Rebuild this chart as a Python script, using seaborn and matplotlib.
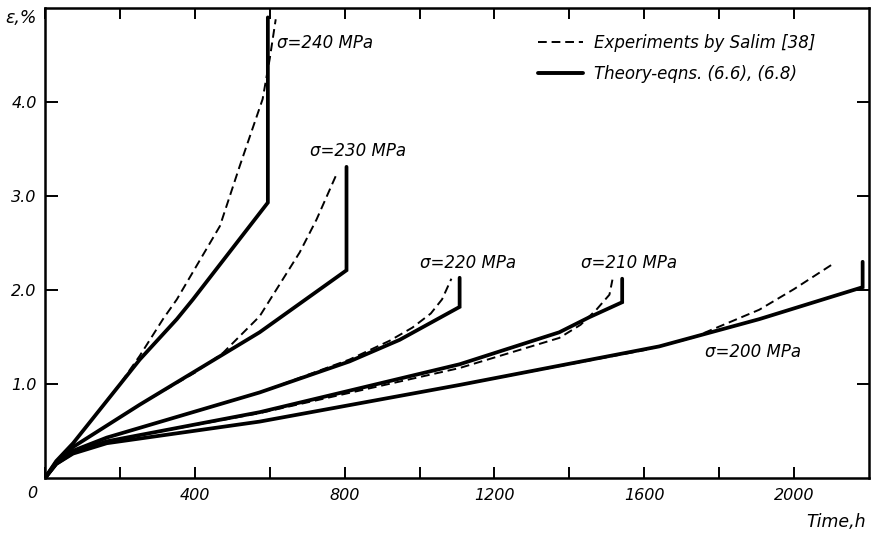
import matplotlib
matplotlib.use("Agg")
import matplotlib.pyplot as plt
from matplotlib.lines import Line2D
import seaborn as sns

# ---- data (time in h, strain in %) ----
stress_labels = ["σ=240 MPa", "σ=230 MPa", "σ=220 MPa", "σ=210 MPa", "σ=200 MPa"]

theory_t_240 = [0, 30, 75, 253, 352, 395, 595, 595]
theory_e_240 = [0, 0.18, 0.37, 1.26, 1.69, 1.90, 2.93, 4.90]
theory_t_230 = [0, 30, 75, 253, 573, 805, 805]
theory_e_230 = [0, 0.17, 0.33, 0.78, 1.55, 2.21, 3.31]
theory_t_220 = [0, 30, 75, 165, 573, 813, 947, 1107, 1107]
theory_e_220 = [0, 0.16, 0.29, 0.43, 0.91, 1.24, 1.47, 1.82, 2.13]
theory_t_210 = [0, 30, 75, 165, 573, 1107, 1373, 1453, 1541, 1541]
theory_e_210 = [0, 0.15, 0.27, 0.39, 0.70, 1.21, 1.55, 1.71, 1.87, 2.12]
theory_t_200 = [0, 30, 75, 165, 573, 1107, 1640, 1907, 2183, 2183]
theory_e_200 = [0, 0.15, 0.26, 0.37, 0.60, 0.99, 1.40, 1.69, 2.03, 2.30]

exp_t_240 = [0, 30, 75, 200, 253, 315, 352, 467, 520, 581, 600, 616]
exp_e_240 = [0, 0.18, 0.37, 1.00, 1.30, 1.69, 1.90, 2.68, 3.32, 4.03, 4.46, 4.88]
exp_t_230 = [0, 30, 75, 253, 400, 475, 573, 680, 725, 776]
exp_e_230 = [0, 0.17, 0.33, 0.78, 1.12, 1.33, 1.72, 2.40, 2.75, 3.21]
exp_t_220 = [0, 30, 75, 165, 573, 813, 920, 981, 1030, 1060, 1085]
exp_e_220 = [0, 0.16, 0.29, 0.43, 0.91, 1.26, 1.46, 1.60, 1.75, 1.90, 2.12]
exp_t_210 = [0, 30, 75, 165, 573, 1107, 1373, 1430, 1472, 1507, 1515]
exp_e_210 = [0, 0.15, 0.27, 0.39, 0.69, 1.17, 1.49, 1.63, 1.79, 1.95, 2.11]
exp_t_200 = [0, 30, 75, 165, 573, 1107, 1600, 1728, 1907, 2000, 2101]
exp_e_200 = [0, 0.15, 0.26, 0.37, 0.60, 0.99, 1.36, 1.49, 1.79, 2.01, 2.27]

label_t = [619, 707, 1000, 1432, 1763]
label_e = [4.63, 3.48, 2.29, 2.29, 1.34]

x_major = [0, 400, 800, 1200, 1600, 2000]
x_minor = [200, 600, 1000, 1400, 1800]
y_major = [1.0, 2.0, 3.0, 4.0]
y_ticklabels = ["1.0", "2.0", "3.0", "4.0"]

legend_labels = ["Experiments by Salim [38]", "Theory-eqns. (6.6), (6.8)"]

theory = [(theory_t_240, theory_e_240), (theory_t_230, theory_e_230),
          (theory_t_220, theory_e_220), (theory_t_210, theory_e_210),
          (theory_t_200, theory_e_200)]
experiments = [(exp_t_240, exp_e_240), (exp_t_230, exp_e_230),
               (exp_t_220, exp_e_220), (exp_t_210, exp_e_210),
               (exp_t_200, exp_e_200)]

# ---- style ----
sns.set_style("ticks")
plt.rcParams["font.family"] = ["DejaVu Sans"]
plt.rcParams["font.style"] = "italic"
plt.rcParams["text.color"] = "black"
plt.rcParams["axes.labelcolor"] = "black"
plt.rcParams["xtick.color"] = "black"
plt.rcParams["ytick.color"] = "black"

fig = plt.figure(figsize=(8.72, 5.37), dpi=100)
ax = fig.add_axes([45 / 872, 1 - 478 / 537, 824 / 872, 470 / 537])

DASH = (4.5, 2.5)
for t, e in experiments:
    sns.lineplot(x=t, y=e, ax=ax, estimator=None, sort=False, color="black",
                 linewidth=1.4)
    ax.lines[-1].set_dashes(DASH)
for t, e in theory:
    sns.lineplot(x=t, y=e, ax=ax, estimator=None, sort=False, color="black",
                 linewidth=2.7, solid_joinstyle="miter")

for lab, t, e in zip(stress_labels, label_t, label_e):
    ax.text(t, e, lab, fontsize=12, va="center", ha="left", style="italic",
            color="black")

ax.set_xlim(0, 2200)
ax.set_ylim(0, 5.0)
ax.set_xticks(x_major)
ax.set_xticks(x_minor, minor=True)
ax.set_xticklabels([""] + [str(v) for v in x_major[1:]], fontsize=11.5, style="italic")
ax.set_yticks(y_major)
ax.set_yticklabels(y_ticklabels, fontsize=11.5, style="italic")
ax.annotate("0", xy=(0, 0), xycoords="data", xytext=(-9, -11),
            textcoords="offset points", ha="center", va="center",
            fontsize=11.5, style="italic", color="black")

ax.tick_params(axis="both", which="both", direction="in", top=True, right=True,
               width=1.4, color="black", labelcolor="black")
ax.tick_params(axis="x", which="both", length=8, pad=7)
ax.tick_params(axis="y", which="both", length=9, pad=6)
for s in ax.spines.values():
    s.set_linewidth(1.8)
    s.set_color("black")

fig.text(5 / 872, 1 - 18 / 537, "ε,%", fontsize=12.5, ha="left", va="center",
         style="italic", color="black")
fig.text(866 / 872, 1 - 522 / 537, "Time,h", fontsize=12.5, ha="right", va="center",
         style="italic", color="black")

handles = [Line2D([0], [0], color="black", linewidth=1.4, dashes=DASH),
           Line2D([0], [0], color="black", linewidth=2.8)]
leg = ax.legend(handles, legend_labels, loc="upper left",
                bbox_to_anchor=(0.598, 0.945), frameon=False, fontsize=12,
                handlelength=2.7, handletextpad=0.7, labelspacing=0.8,
                borderaxespad=0, borderpad=0)
for txt in leg.get_texts():
    txt.set_style("italic")
    txt.set_color("black")

fig.savefig("out.png", dpi=100)
